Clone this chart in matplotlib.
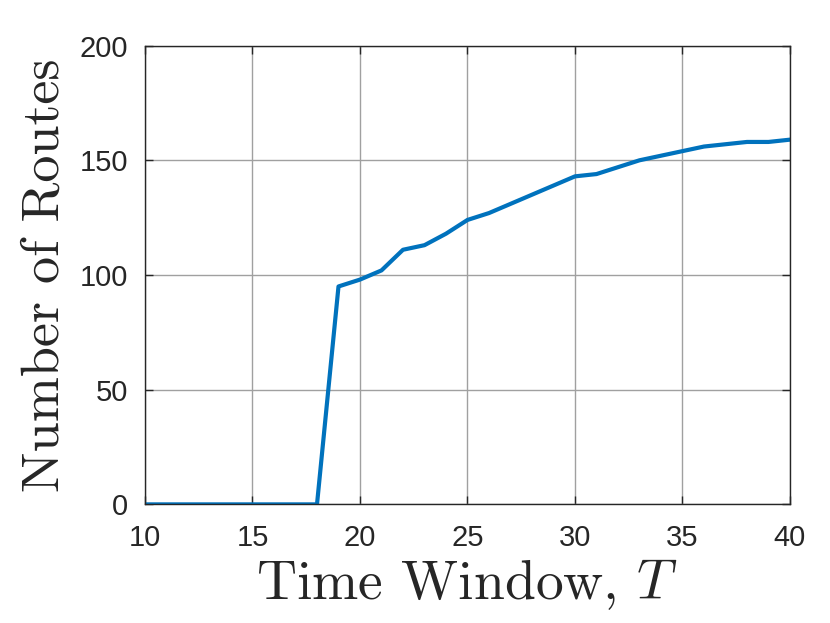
import numpy as np
import matplotlib
matplotlib.use('Agg')
import matplotlib.pyplot as plt

# Time window values and number of routes found
time_window = [10, 11, 12, 13, 14, 15, 16, 17, 18, 19, 20, 21, 22, 23, 24, 25,
               26, 27, 28, 29, 30, 31, 32, 33, 34, 35, 36, 37, 38, 39, 40]
num_routes = [0, 0, 0, 0, 0, 0, 0, 0, 0, 95, 98, 102, 111, 113, 118, 124,
              127, 131, 135, 139, 143, 144, 147, 150, 152, 154, 156, 157, 158, 158, 159]

x_ticks = [10, 15, 20, 25, 30, 35, 40]
y_ticks = [0, 50, 100, 150, 200]

plt.rcParams['mathtext.fontset'] = 'cm'

fig = plt.figure(figsize=(8.3, 6.23), dpi=100)
ax = fig.add_axes([0.1747, 0.1904, 0.7771, 0.7364])

ax.plot(time_window, num_routes, color='#0072BD', linewidth=3)

ax.set_xlim(10, 40)
ax.set_ylim(0, 200)
ax.set_xticks(x_ticks)
ax.set_yticks(y_ticks)
ax.grid(True, color='#a0a0a0', linewidth=1)
ax.set_axisbelow(True)

for s in ax.spines.values():
    s.set_color('#262626')
    s.set_linewidth(1)
ax.tick_params(direction='in', top=True, right=True, length=6, width=1,
               color='#262626', labelsize=21, labelcolor='#262626')
ax.tick_params(axis='x', pad=14)
ax.tick_params(axis='y', pad=12)
for lab in ax.get_xticklabels() + ax.get_yticklabels():
    lab.set_family(['Liberation Sans', 'DejaVu Sans'])

ax.set_xlabel('Time Window, $T$', family='cmr10', fontsize=40, color='#262626', labelpad=4)
ax.set_ylabel('Number of Routes', family='cmr10', fontsize=39, color='#262626', labelpad=8)

fig.savefig('out.png', dpi=100)
